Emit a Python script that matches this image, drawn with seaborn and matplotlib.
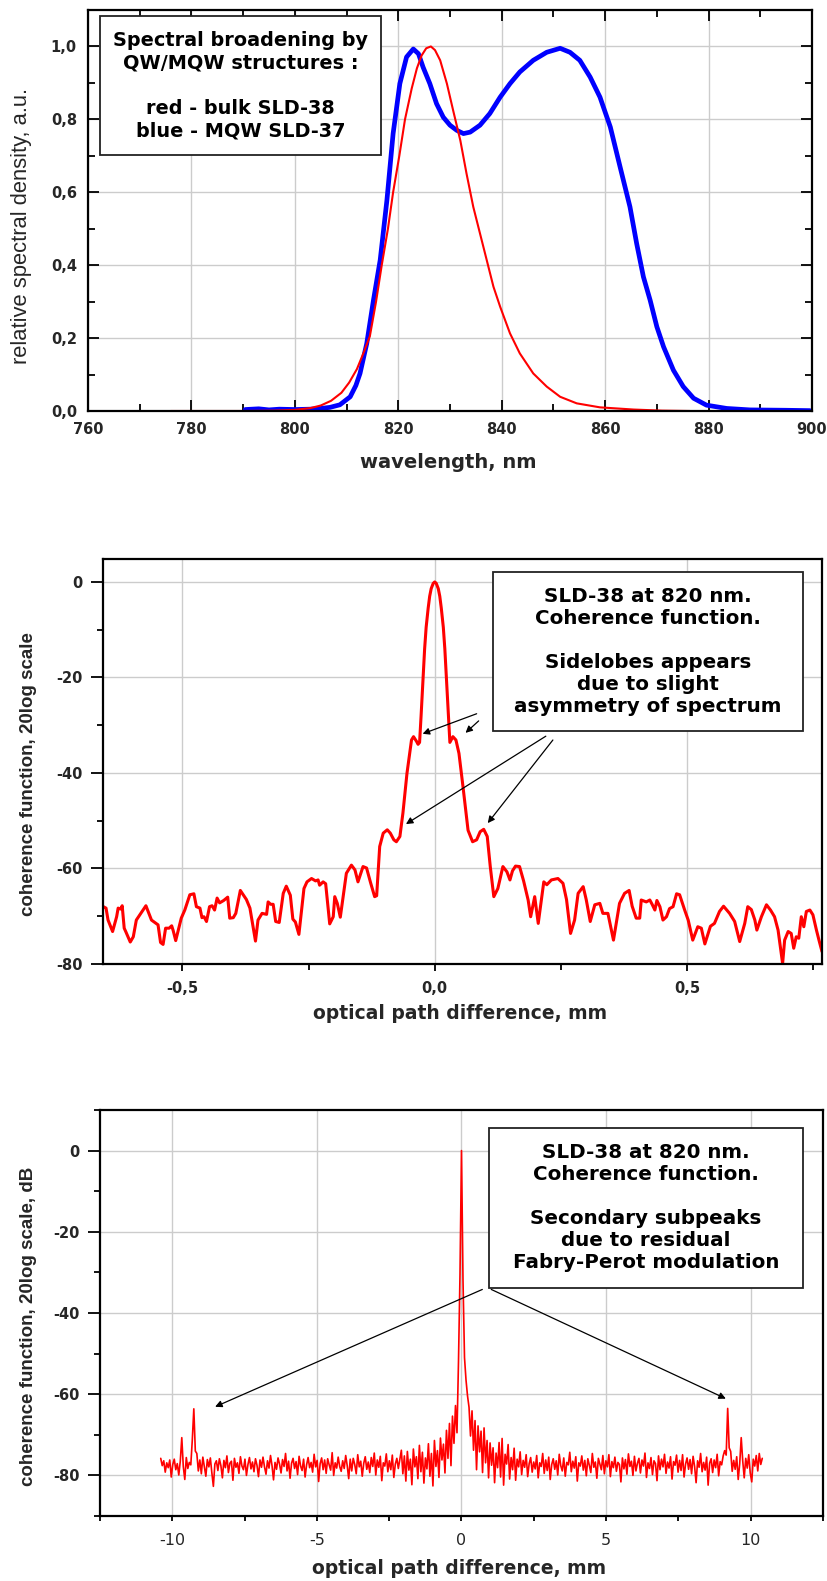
import numpy as np
import matplotlib
matplotlib.use("Agg")
import matplotlib.pyplot as plt
import seaborn as sns
from matplotlib.patches import Rectangle
from matplotlib.ticker import MultipleLocator

# ---- panel 1: emission spectra ----
red_wl = [776, 790, 796, 800, 803, 805, 807, 809, 810.5, 812, 813.3, 814.5, 815.7, 816.8,
          818, 819, 820.2, 821.3, 822.6, 823.6, 824.5, 825.4, 826.3, 827.1, 828.1, 829.4,
          830.6, 832.0, 833.2, 834.5, 835.8, 837.1, 838.4, 839.7, 841.6, 843.5, 846.1,
          848.7, 851.3, 854.5, 859, 865.5, 871, 876.4]
red_sd = [0.0, 0.0, 0.001, 0.003, 0.008, 0.015, 0.028, 0.05, 0.078, 0.115, 0.16, 0.205, 0.3,
          0.4, 0.5, 0.6, 0.7, 0.8, 0.885, 0.94, 0.975, 0.995, 1.0, 0.99, 0.962, 0.898, 0.825,
          0.742, 0.651, 0.56, 0.487, 0.414, 0.341, 0.286, 0.213, 0.158, 0.103, 0.067, 0.039,
          0.021, 0.010, 0.004, 0.001, 0.0]

blue_wl = [790.4, 793, 795, 797, 800, 803, 805, 806.8, 808.7, 810.7, 811.8, 812.6, 813.9,
           815.2, 816.5, 817.8, 819.0, 820.3, 821.6, 822.9, 823.9, 824.8, 826.1, 827.4, 828.7,
           830.0, 831.3, 832.6, 833.9, 835.8, 837.7, 839.7, 841.6, 843.5, 846.1, 848.7, 851.3,
           853.2, 855.1, 857.1, 859.0, 861.0, 862.9, 864.8, 866.1, 867.4, 868.7, 870.0, 871.3,
           873.2, 875.1, 877.1, 879.6, 883.5, 888, 895, 899.6]
blue_sd = [0.004, 0.006, 0.003, 0.005, 0.004, 0.005, 0.007, 0.010, 0.017, 0.039, 0.07, 0.103,
           0.185, 0.304, 0.414, 0.578, 0.761, 0.898, 0.971, 0.993, 0.98, 0.943, 0.898, 0.843,
           0.806, 0.784, 0.77, 0.761, 0.765, 0.784, 0.816, 0.861, 0.898, 0.93, 0.962, 0.984,
           0.995, 0.984, 0.962, 0.916, 0.861, 0.779, 0.669, 0.56, 0.459, 0.368, 0.304, 0.231,
           0.176, 0.112, 0.067, 0.035, 0.016, 0.007, 0.003, 0.002, 0.001]

wl_ticks = [760, 780, 800, 820, 840, 860, 880, 900]
wl_labels = ["760", "780", "800", "820", "840", "860", "880", "900"]
sd_ticks = [0.0, 0.2, 0.4, 0.6, 0.8, 1.0]
sd_labels = ["0,0", "0,2", "0,4", "0,6", "0,8", "1,0"]

# ---- panel 2: coherence function near zero path difference (mm, dB) ----
opd_short = [-0.658, -0.651, -0.647, -0.638, -0.630, -0.627, -0.622, -0.619, -0.615, -0.612,
             -0.603, -0.597, -0.591, -0.584, -0.572, -0.561, -0.548, -0.543, -0.538, -0.533,
             -0.526, -0.521, -0.518, -0.513, -0.502, -0.495, -0.485, -0.477, -0.472, -0.465,
             -0.461, -0.457, -0.452, -0.446, -0.441, -0.436, -0.431, -0.426, -0.418, -0.410,
             -0.406, -0.399, -0.394, -0.385, -0.373, -0.366, -0.355, -0.350, -0.342, -0.333,
             -0.330, -0.325, -0.320, -0.315, -0.308, -0.300, -0.294, -0.286, -0.281, -0.276,
             -0.269, -0.259, -0.253, -0.244, -0.236, -0.231, -0.228, -0.221, -0.216, -0.208,
             -0.201, -0.198, -0.193, -0.187, -0.175, -0.165, -0.158, -0.152, -0.142, -0.135,
             -0.127, -0.119, -0.115, -0.109, -0.102, -0.094, -0.088, -0.081, -0.076, -0.069,
             -0.063, -0.055, -0.046, -0.042, -0.036, -0.033, -0.030, -0.027, -0.023, -0.020,
             -0.017, -0.013, -0.010, -0.007, -0.003, 0.0, 0.003, 0.007, 0.010, 0.013,
             0.017, 0.020, 0.023, 0.027, 0.030, 0.036, 0.042, 0.048, 0.056, 0.066,
             0.075, 0.083, 0.090, 0.097, 0.104, 0.110, 0.117, 0.125, 0.135, 0.143,
             0.149, 0.154, 0.160, 0.168, 0.176, 0.185, 0.190, 0.195, 0.198, 0.205,
             0.216, 0.222, 0.231, 0.244, 0.254, 0.261, 0.269, 0.277, 0.284, 0.294,
             0.300, 0.308, 0.317, 0.327, 0.333, 0.343, 0.354, 0.366, 0.376, 0.385,
             0.391, 0.399, 0.406, 0.409, 0.419, 0.426, 0.431, 0.436, 0.440, 0.446,
             0.452, 0.459, 0.465, 0.472, 0.479, 0.485, 0.495, 0.502, 0.511, 0.521,
             0.528, 0.535, 0.546, 0.554, 0.564, 0.572, 0.584, 0.594, 0.604, 0.614,
             0.620, 0.627, 0.634, 0.638, 0.647, 0.657, 0.665, 0.673, 0.680, 0.689,
             0.693, 0.700, 0.706, 0.711, 0.716, 0.721, 0.726, 0.731, 0.736, 0.743,
             0.749, 0.756, 0.761, 0.767]
coh_short = [-67.9, -68.3, -70.8, -73.2, -70.1, -68.3, -68.5, -67.8, -72.5, -73.2,
             -75.4, -74.3, -70.8, -69.7, -67.8, -70.8, -71.8, -75.5, -75.9, -72.5,
             -72.5, -72.0, -73.0, -75.1, -70.4, -68.7, -65.5, -65.3, -68.0, -68.3,
             -70.3, -70.1, -71.1, -68.0, -67.8, -68.7, -66.2, -67.2, -66.7, -66.0,
             -70.4, -70.3, -69.4, -64.6, -66.5, -68.3, -75.2, -70.8, -69.4, -69.6,
             -67.0, -67.5, -67.5, -71.1, -71.3, -65.2, -63.7, -65.6, -70.6, -71.2,
             -73.8, -64.2, -62.8, -62.1, -62.6, -62.4, -63.5, -62.8, -63.2, -71.6,
             -70.1, -65.9, -67.3, -70.2, -61.0, -59.3, -60.3, -62.8, -59.6, -59.9,
             -63.0, -65.9, -65.7, -55.4, -52.6, -51.9, -52.6, -54.0, -54.4, -53.3,
             -48.4, -40.1, -33.1, -32.4, -33.4, -34.0, -33.6, -28.0, -20.0, -14.0,
             -9.5, -5.5, -3.0, -1.4, -0.3, 0.0, -0.3, -1.4, -3.0, -5.5,
             -9.5, -14.0, -20.0, -28.0, -33.6, -32.4, -33.1, -35.9, -42.9, -52.0,
             -54.4, -54.0, -52.3, -51.8, -53.3, -59.6, -65.9, -64.2, -59.6, -60.7,
             -62.4, -60.5, -59.5, -59.6, -62.6, -66.6, -70.1, -67.5, -65.9, -71.5,
             -62.8, -63.4, -62.4, -62.1, -63.1, -66.5, -73.6, -70.8, -65.2, -63.8,
             -66.5, -71.1, -67.6, -67.3, -69.4, -69.4, -75.0, -67.3, -65.2, -64.6,
             -67.9, -70.4, -70.4, -66.6, -67.0, -66.6, -67.6, -68.7, -66.7, -68.0,
             -70.8, -70.1, -68.4, -68.0, -65.3, -65.5, -68.7, -70.8, -75.0, -72.2,
             -72.5, -75.8, -72.1, -71.5, -69.0, -67.9, -69.4, -71.1, -75.3, -71.5,
             -68.0, -68.6, -70.8, -72.9, -70.1, -67.6, -68.7, -70.1, -72.9, -79.9,
             -75.0, -73.2, -73.6, -76.7, -74.3, -74.6, -70.1, -72.2, -69.0, -68.7,
             -69.7, -72.9, -75.0, -77.4]

opd_short_ticks = [-0.5, 0.0, 0.5]
opd_short_labels = ["-0,5", "0,0", "0,5"]
db_ticks = [-80, -60, -40, -20, 0]
db_labels = ["-80", "-60", "-40", "-20", "0"]

# ---- panel 3: coherence function over the full scan, uniform sampling ----
opd_long_start, opd_long_stop = -10.4, 10.4
coh_long = [
    -75.8, -77.6, -76.4, -79.2, -76.9, -78.1, -76.2, -80.4, -77.3, -76.0,
    -78.6, -77.1, -79.9, -76.5, -70.7, -77.8, -81.0, -75.6, -78.3, -76.8,
    -77.4, -71.2, -63.6, -74.0, -74.6, -78.9, -76.2, -79.6, -75.5, -77.8,
    -80.2, -76.1, -77.9, -75.7, -79.4, -82.7, -77.2, -76.4, -78.8, -75.9,
    -77.6, -80.6, -76.3, -78.1, -75.2, -79.3, -77.0, -76.5, -81.2, -75.8,
    -78.0, -76.9, -79.5, -75.4, -77.7, -78.6, -76.0, -80.0, -77.3, -75.6,
    -78.4, -76.7, -79.1, -75.9, -77.5, -80.3, -76.2, -78.0, -75.5, -77.9,
    -79.7, -76.4, -78.2, -75.1, -77.6, -81.1, -76.8, -78.5, -75.7, -77.2,
    -79.4, -76.1, -77.8, -74.6, -78.9, -76.5, -80.7, -77.0, -75.8, -78.3,
    -76.6, -79.8, -75.3, -77.7, -78.8, -76.0, -80.4, -77.4, -75.6, -78.1,
    -76.8, -79.2, -74.8, -77.9, -76.3, -81.5, -77.1, -75.7, -78.6, -76.2,
    -79.5, -75.9, -77.4, -78.7, -74.4, -80.0, -76.9, -78.2, -75.5, -77.8,
    -79.0, -76.4, -78.3, -75.1, -77.6, -80.8, -76.0, -78.9, -75.8, -77.3,
    -79.6, -74.9, -77.9, -76.5, -80.2, -77.0, -75.4, -78.5, -76.7, -79.3,
    -75.6, -77.8, -74.5, -79.9, -76.2, -78.0, -75.3, -81.3, -76.9, -77.7,
    -74.7, -79.1, -76.4, -78.6, -75.0, -80.5, -77.2, -75.8, -78.3, -76.1,
    -73.8, -79.6, -75.2, -81.4, -74.1, -78.7, -76.0, -82.3, -73.5, -77.9,
    -75.4, -80.8, -72.6, -79.1, -74.3, -81.9, -75.7, -78.4, -72.2, -80.2,
    -74.6, -82.6, -71.4, -77.8, -73.9, -80.5, -70.8, -76.2, -72.3, -79.4,
    -68.9, -75.8, -67.2, -77.6, -65.4, -72.1, -62.8, -69.5, -52.0, -30.5,
    0.0,
    -32.0, -51.0, -56.5, -60.4, -63.2, -70.3, -64.1, -73.8, -66.5, -78.6,
    -67.8, -74.2, -69.1, -79.3, -68.3, -76.9, -71.4, -80.6, -72.0, -77.5,
    -73.2, -81.8, -74.5, -78.1, -71.9, -80.4, -70.9, -82.4, -74.8, -77.2,
    -72.4, -80.9, -75.6, -78.6, -73.3, -81.2, -76.0, -77.9, -74.2, -79.8,
    -76.3, -78.0, -74.9, -80.3, -77.1, -75.6, -79.2, -76.7, -78.4, -75.1,
    -80.6, -76.9, -77.8, -74.6, -79.5, -76.2, -78.8, -75.5, -81.0, -77.3,
    -75.9, -78.5, -76.4, -79.9, -74.8, -77.6, -78.9, -75.7, -80.2, -76.8,
    -77.4, -74.3, -79.1, -76.5, -78.2, -75.4, -81.4, -76.9, -77.7, -75.2,
    -78.7, -76.3, -80.1, -75.9, -77.5, -79.3, -74.6, -78.0, -76.7, -80.7,
    -75.8, -77.2, -78.6, -75.1, -79.6, -76.4, -77.9, -74.9, -80.3, -76.6,
    -78.1, -75.5, -79.0, -76.8, -77.3, -81.6, -75.7, -78.4, -76.1, -79.7,
    -74.7, -77.8, -76.5, -80.0, -75.3, -78.9, -77.0, -75.8, -79.4, -76.2,
    -77.7, -74.5, -80.5, -76.9, -78.3, -75.6, -79.8, -76.4, -77.1, -81.3,
    -75.2, -78.6, -76.0, -77.9, -74.8, -79.5, -76.7, -78.2, -75.4, -80.9,
    -76.6, -77.5, -75.0, -79.2, -76.3, -78.8, -74.9, -80.4, -77.2, -75.7,
    -78.5, -76.1, -79.6, -75.3, -77.8, -81.8, -76.4, -78.0, -74.6, -79.1,
    -76.8, -78.7, -75.5, -82.4, -77.0, -75.9, -79.3, -76.2, -78.1, -74.8,
    -80.1, -76.6, -77.4, -75.2, -73.9, -75.0, -63.5, -73.2, -74.1, -79.0,
    -76.3, -78.5, -75.4, -81.0, -77.1, -70.7, -76.4, -80.6, -75.8, -78.2,
    -74.9, -79.4, -81.6, -76.0, -77.7, -75.1, -78.9, -74.6, -77.3, -75.8,
]
opd_long = np.linspace(opd_long_start, opd_long_stop, len(coh_long))

opd_long_ticks = [-10, -5, 0, 5, 10]
opd_long_labels = ["-10", "-5", "0", "5", "10"]

# ---- styling ----
sns.set_theme(style="white")
plt.rcParams["font.family"] = ["DejaVu Sans"]
plt.rcParams["axes.unicode_minus"] = False

W, H = 828, 1581
fig = plt.figure(figsize=(W / 100, H / 100), dpi=100)


def px_axes(left, top, right, bottom):
    return fig.add_axes([left / W, 1 - bottom / H, (right - left) / W, (bottom - top) / H])


def frame(ax):
    for sp in ax.spines.values():
        sp.set_visible(True)
        sp.set_color("black")
        sp.set_linewidth(1.6)
    ax.grid(True, which="major", color="#cccccc", lw=1.0)
    ax.set_axisbelow(True)


def note_box(ax, x0, y0, x1, y1, text, size, spacing):
    ax.add_patch(Rectangle((x0, y0), x1 - x0, y1 - y0, transform=ax.transAxes,
                           fc="white", ec="#222222", lw=1.3, zorder=5))
    ax.text((x0 + x1) / 2, (y0 + y1) / 2, text, transform=ax.transAxes, ha="center",
            va="center", multialignment="center", fontsize=size, fontweight="bold",
            linespacing=spacing, color="black", zorder=6)


bold_tick = dict(fontsize=10.5, fontweight="bold", fontfamily="DejaVu Sans")
label_font = dict(fontfamily="DejaVu Sans", fontweight="bold")

# panel 1
ax1 = px_axes(88, 10, 812, 411)
sns.lineplot(x=blue_wl, y=blue_sd, ax=ax1, color="#0000ff", lw=3.4, estimator=None, sort=False)
sns.lineplot(x=red_wl, y=red_sd, ax=ax1, color="#ff0000", lw=1.5, estimator=None, sort=False)
frame(ax1)
ax1.set_xlim(760, 900)
ax1.set_ylim(0, 1.1)
ax1.set_xticks(wl_ticks, wl_labels, **bold_tick)
ax1.set_yticks(sd_ticks, sd_labels, **bold_tick)
ax1.xaxis.set_minor_locator(MultipleLocator(10))
ax1.yaxis.set_minor_locator(MultipleLocator(0.1))
ax1.tick_params(which="both", direction="in", top=True, right=True, bottom=True, left=True,
                width=1.3, color="black")
ax1.tick_params(which="major", length=8)
ax1.tick_params(which="minor", length=5)
ax1.tick_params(axis="y", pad=8)
ax1.tick_params(axis="x", pad=8)
ax1.set_xlabel("wavelength, nm", fontsize=14, **label_font)
ax1.xaxis.set_label_coords(0.497, -0.105)
ax1.xaxis.label.set_va("top")
ax1.set_ylabel("relative spectral density, a.u.", fontsize=15.8,
               fontfamily="Liberation Sans", fontweight="normal")
ax1.yaxis.set_label_coords(-0.077, 0.461)
note_box(ax1, 0.0166, 0.6384, 0.4047, 0.985,
         "Spectral broadening by\nQW/MQW structures :\n\nred - bulk SLD-38\nblue - MQW SLD-37",
         13.9, 1.24)

# panel 2
ax2 = px_axes(103, 559, 822, 964)
sns.lineplot(x=opd_short, y=coh_short, ax=ax2, color="#ff0000", lw=2.2, estimator=None, sort=False)
frame(ax2)
ax2.set_xlim(-0.657, 0.767)
ax2.set_ylim(-80, 4.8)
ax2.set_xticks(opd_short_ticks, opd_short_labels, **bold_tick)
ax2.set_yticks(db_ticks, db_labels, **bold_tick)
ax2.xaxis.set_minor_locator(MultipleLocator(0.25))
ax2.yaxis.set_minor_locator(MultipleLocator(10))
ax2.tick_params(which="both", direction="out", bottom=True, left=True, width=1.3, color="black")
ax2.tick_params(axis="y", which="major", length=8.4, pad=6.5)
ax2.tick_params(axis="y", which="minor", length=4.5)
ax2.tick_params(axis="x", which="major", length=5, pad=7)
ax2.tick_params(axis="x", which="minor", length=4)
ax2.set_xlabel("optical path difference, mm", fontsize=13.5, **label_font)
ax2.xaxis.set_label_coords(0.4965, -0.098)
ax2.xaxis.label.set_va("top")
ax2.set_ylabel("coherence function, 20log scale", fontsize=13.5,
               fontfamily="Liberation Sans", fontweight="bold")
ax2.yaxis.set_label_coords(-0.092, 0.468)
note_box(ax2, 0.5424, 0.5753, 0.9736, 0.9679,
         "SLD-38 at 820 nm.\nCoherence function.\n\nSidelobes appears\ndue to slight\nasymmetry of spectrum",
         14.3, 1.2)
arrow_kw = dict(arrowstyle="-|>", color="black", lw=0.9, mutation_scale=10, shrinkA=0, shrinkB=0)
for tail, head in [((0.083, -27.6), (-0.024, -31.8)), ((0.087, -29.1), (0.061, -31.6)),
                   ((0.220, -32.3), (-0.057, -50.7)), ((0.234, -33.1), (0.105, -50.5))]:
    ax2.annotate("", xy=head, xytext=tail, arrowprops=arrow_kw, zorder=7)

# panel 3
ax3 = px_axes(100, 1110, 823, 1516)
sns.lineplot(x=opd_long, y=coh_long, ax=ax3, color="#ff0000", lw=1.2, estimator=None, sort=False)
frame(ax3)
ax3.set_xlim(-12.5, 12.5)
ax3.set_ylim(-90, 10)
ax3.set_xticks(opd_long_ticks, opd_long_labels, fontsize=11.5, fontweight="normal",
               fontfamily="DejaVu Sans")
ax3.set_yticks(db_ticks, db_labels, **bold_tick)
ax3.xaxis.set_minor_locator(MultipleLocator(2.5))
ax3.yaxis.set_minor_locator(MultipleLocator(10))
ax3.tick_params(which="both", direction="out", bottom=True, left=True, width=1.3, color="black")
ax3.tick_params(axis="y", which="major", length=8.4, pad=6)
ax3.tick_params(axis="y", which="minor", length=4.2)
ax3.tick_params(axis="x", which="both", length=3.5, pad=9)
ax3.set_xlabel("optical path difference, mm", fontsize=13.5, **label_font)
ax3.xaxis.set_label_coords(0.4965, -0.105)
ax3.xaxis.label.set_va("top")
ax3.set_ylabel("coherence function, 20log scale, dB", fontsize=13.5,
               fontfamily="Liberation Sans", fontweight="bold")
ax3.yaxis.set_label_coords(-0.087, 0.468)
note_box(ax3, 0.538, 0.5616, 0.9723, 0.9557,
         "SLD-38 at 820 nm.\nCoherence function.\n\nSecondary subpeaks\ndue to residual\nFabry-Perot modulation",
         14.3, 1.2)
for tail, head in [((0.72, -34.2), (-8.52, -63.1)), ((1.03, -34.2), (9.14, -61.1))]:
    ax3.annotate("", xy=head, xytext=tail, arrowprops=arrow_kw, zorder=7)

fig.savefig("out.png", dpi=100, facecolor="white")
